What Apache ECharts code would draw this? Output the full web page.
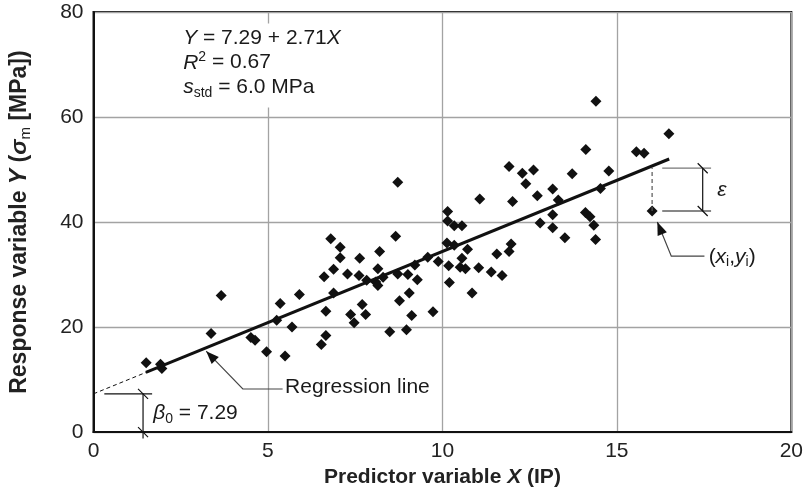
<!DOCTYPE html>
<html>
<head>
<meta charset="utf-8">
<script src="https://cdn.jsdelivr.net/npm/echarts@6/dist/echarts.min.js"></script>
<style>html,body{margin:0;padding:0;background:#fff}#c{width:806px;height:493px}</style>
</head>
<body>
<div id="c"></div>
<script>
// ---- data ----
const predictorX = [1.51,1.92,1.96,3.37,3.66,4.51,4.63,4.96,5.25,5.35,5.49,5.69,5.9,6.53,6.61,6.66,6.66,6.8,6.88,6.88,
  7.07,7.07,7.28,7.37,7.47,7.61,7.63,7.7,7.8,7.83,8.09,8.15,8.15,8.2,8.3,8.49,8.66,8.72,8.72,8.77,
  8.97,9.01,9.05,9.12,9.21,9.28,9.58,9.73,9.88,10.13,10.15,10.15,10.18,10.2,10.34,10.34,10.51,10.56,10.56,10.66,
  10.72,10.85,11.04,11.07,11.4,11.56,11.71,11.91,11.91,11.97,12.01,12.29,12.39,12.61,12.72,12.8,13.16,13.16,13.16,13.32,
  13.51,13.72,14.1,14.11,14.23,14.34,14.39,14.4,14.53,14.77,15.56,15.78,16.01,16.49];
const responseY = [13.2,12.9,12.1,18.8,26.0,18.0,17.5,15.3,21.3,24.5,14.5,20.0,26.2,16.7,29.6,23.0,18.4,36.8,31.0,26.5,
  35.2,33.2,30.1,22.4,20.8,29.8,33.1,24.3,22.4,28.9,28.6,27.9,31.1,34.4,29.5,19.1,37.3,30.1,47.6,25.0,
  19.5,30.0,26.5,22.2,31.8,29.0,33.3,22.9,32.5,36.0,42.0,40.2,31.7,28.5,39.3,35.6,31.4,39.3,33.1,31.1,
  34.8,26.5,31.3,44.4,30.5,33.9,29.8,50.6,34.4,35.8,43.9,49.3,47.3,49.9,45.0,39.8,46.3,41.4,38.9,44.2,
  37.0,49.2,41.8,53.8,41.0,39.4,36.7,63.0,46.4,49.7,53.4,53.1,42.1,56.8];
const b0 = 7.29, b1 = 2.71;            // regression coefficients
const regSolidX = [1.5, 16.5];         // extent of fitted line
const regDashX = [0, 1.5];             // extrapolation to intercept
const xTicks = {min:0, max:20, interval:5};
const yTicks = {min:0, max:80, interval:20};
const highlighted = [16.01, 42.1];     // (xi, yi) point

const F = '"Liberation Sans", Arial, Helvetica, sans-serif';
const INK = '#111';

const chart = echarts.init(document.getElementById('c'), null, {renderer:'canvas'});
const pts = predictorX.map((x,i)=>[x, responseY[i]]);
const fit = x => b0 + b1*x;

chart.setOption({
  animation:false,
  backgroundColor:'#fff',
  grid:{left:92, right:14, top:12, bottom:59, show:true, borderColor:INK, borderWidth:2, backgroundColor:'rgba(0,0,0,0)'},
  xAxis:{type:'value', min:xTicks.min, max:xTicks.max, interval:xTicks.interval,
    axisLine:{show:true, onZero:false, lineStyle:{color:INK, width:2}},
    axisTick:{show:false},
    splitLine:{show:true, lineStyle:{color:'#a3a3a3', width:1.3}},
    axisLabel:{fontSize:21, color:'#222', margin:9, fontFamily:F},
    name:'{b|Predictor variable }{bi|X}{b| (IP)}', nameLocation:'middle', nameGap:32,
    nameTextStyle:{rich:{
      b:{fontSize:21, fontWeight:'bold', fontFamily:F, color:'#222'},
      bi:{fontSize:21, fontWeight:'bold', fontStyle:'italic', fontFamily:F, color:'#222'}}}
  },
  yAxis:{type:'value', min:yTicks.min, max:yTicks.max, interval:yTicks.interval,
    axisLine:{show:true, onZero:false, lineStyle:{color:INK, width:2}},
    axisTick:{show:false},
    splitLine:{show:true, lineStyle:{color:'#a3a3a3', width:1.3}},
    axisLabel:{fontSize:21, color:'#222', margin:10, fontFamily:F},
    name:'{b|Response variable }{bi|Y}{b| (}{bi|σ}{sub|m}{b| [MPa])}', nameLocation:'middle', nameGap:60,
    nameTextStyle:{rich:{
      b:{fontSize:23, fontWeight:'bold', fontFamily:F, color:'#222', lineHeight:28},
      bi:{fontSize:23, fontWeight:'bold', fontStyle:'italic', fontFamily:F, color:'#222', lineHeight:28},
      sub:{fontSize:15, fontFamily:F, color:'#222', lineHeight:15, verticalAlign:'bottom'}}}
  },
  series:[
    {type:'scatter', data:pts, symbol:'diamond', symbolSize:[11,11], itemStyle:{color:INK, opacity:1}, z:3},
    {type:'line', data:regSolidX.map(x=>[x, fit(x)]), symbol:'none', lineStyle:{color:INK, width:3}, z:4},
    {type:'line', data:regDashX.map(x=>[x, fit(x)]), symbol:'none', lineStyle:{color:INK, width:1, type:[4,3]}, z:4}
  ]
});

// ---- annotations (placed through the axes' own scales) ----
const P = (x,y) => chart.convertToPixel({gridIndex:0}, [x,y]);
const g = [];
function seg(a, b, stroke, w, dash){
  const p1 = P(a[0],a[1]), p2 = P(b[0],b[1]);
  g.push({type:'line', z:10, shape:{x1:p1[0],y1:p1[1],x2:p2[0],y2:p2[1]}, style:{stroke:stroke, lineWidth:w, lineDash:dash||null}});
}
function slash(c){
  const p = P(c[0],c[1]);
  g.push({type:'line', z:10, shape:{x1:p[0]-5,y1:p[1]-5,x2:p[0]+5,y2:p[1]+5}, style:{stroke:INK, lineWidth:1.2}});
}
function leader(pointsData, stroke){
  const pp = pointsData.map(d=>P(d[0],d[1]));
  g.push({type:'polyline', z:10, shape:{points:pp}, style:{stroke:stroke, lineWidth:1.2, fill:null}});
  const tip = pp[pp.length-1], prev = pp[pp.length-2];
  const dx = tip[0]-prev[0], dy = tip[1]-prev[1], L = Math.hypot(dx,dy);
  const ux = dx/L, uy = dy/L, len = 13, hw = 5;
  const bx = tip[0]-ux*len, by = tip[1]-uy*len;
  g.push({type:'polygon', z:11, shape:{points:[[tip[0],tip[1]],[bx-uy*hw,by+ux*hw],[bx+uy*hw,by-ux*hw]]}, style:{fill:INK}});
}
function txt(at, text, rich, align){
  const p = P(at[0],at[1]);
  g.push({type:'text', z:12, x:p[0], y:p[1], style:{text:text, rich:rich, fontSize:21, fontFamily:F, fill:'#1a1a1a',
    align:align||'left', verticalAlign:'middle', textAlign:align||'left', textVerticalAlign:'middle'}});
}
const R = {
  i:{fontSize:21, fontStyle:'italic', fontFamily:F, fill:'#1a1a1a', lineHeight:25},
  n:{fontSize:21, fontFamily:F, fill:'#1a1a1a', lineHeight:25},
  sup:{fontSize:14, fontFamily:F, fill:'#1a1a1a', lineHeight:14, verticalAlign:'top'},
  sub:{fontSize:14, fontFamily:F, fill:'#1a1a1a', lineHeight:14, verticalAlign:'bottom'}
};

// equation block with white backing
const tl = P(2.46, 77.8), br = P(7.3, 61.8);
g.push({type:'rect', z:9, shape:{x:tl[0], y:tl[1], width:br[0]-tl[0], height:br[1]-tl[1]}, style:{fill:'#fff'}});
txt([2.57, 75.1], '{i|Y}{n| = 7.29 + 2.71}{i|X}', R);
txt([2.57, 70.35], '{i|R}{sup|2}{n| = 0.67}', R);
txt([2.57, 65.6], '{i|s}{sub|std}{n| = 6.0 MPa}', R);

// beta0 marker
seg([0.31, b0], [1.68, b0], INK, 1.2);
seg([1.42, b0], [1.42, -1.2], INK, 1.2);
slash([1.42, b0]); slash([1.42, 0]);
txt([1.71, 3.6], '{i|β}{sub|0}{n| = 7.29}', R);

// regression line label
leader([[5.42, 8.21],[4.28, 8.21],[3.23, 15.41]], '#444');
txt([5.49, 8.6], 'Regression line', R);

// epsilon residual
seg([highlighted[0], highlighted[1]], [highlighted[0], 50.4], '#555', 1.2, [4,3]);
seg([16.3, 50.25], [17.7, 50.25], '#777', 1.2);
seg([16.3, highlighted[1]], [17.7, highlighted[1]], INK, 1.2);
seg([17.46, 50.25], [17.46, highlighted[1]], INK, 1.2);
slash([17.46, 50.25]); slash([17.46, highlighted[1]]);
txt([17.88, 46.1], '{i|ε}', R);

// (xi, yi) label
leader([[17.51, 33.5],[16.56, 33.5],[16.16, 40.0]], '#444');
txt([17.63, 33.4], '{n|(}{i|x}{sub|i}{n|,}{i|y}{sub|i}{n|)}', R);

chart.setOption({graphic:g});
</script>
</body>
</html>
